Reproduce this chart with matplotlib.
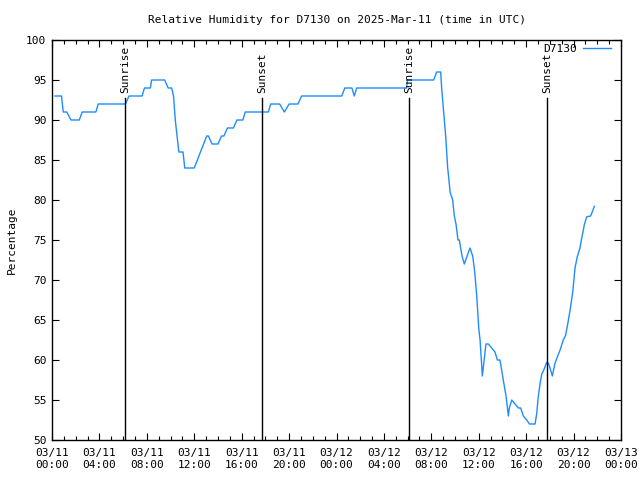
import matplotlib
matplotlib.use("Agg")
import matplotlib.pyplot as plt
from matplotlib.ticker import MultipleLocator

# Hours since 2025-03-11 00:00 UTC
hours = [0.25, 0.8, 0.95, 1.25, 1.6, 2.3, 2.55, 3.7, 3.9, 6.2, 6.5, 7.6, 7.8, 8.3, 8.4, 9.5,
         9.8, 10.1, 10.25, 10.4, 10.55, 10.7, 11.05, 11.2, 12.0, 13.05, 13.2, 13.5, 14.0, 14.3,
         14.5, 14.8, 15.3, 15.6, 16.1, 16.3, 18.25, 18.45, 19.2, 19.6, 20.0, 20.75, 21.06,
         24.44, 24.7, 25.3, 25.5, 25.7, 29.9, 30.0, 32.2, 32.45, 32.79, 32.87, 33.04, 33.21,
         33.38, 33.52, 33.58, 33.8, 33.94, 34.08, 34.25, 34.36, 34.59, 34.78, 35.26, 35.49,
         35.66, 35.83, 36.0, 36.11, 36.22, 36.3, 36.38, 36.53, 36.61, 36.81, 37.09, 37.37,
         37.57, 37.79, 38.07, 38.3, 38.5, 38.58, 38.78, 39.06, 39.34, 39.54, 39.76, 40.05,
         40.27, 40.75, 40.89, 41.02, 41.17, 41.31, 41.5, 41.73, 41.87, 42.01, 42.21, 42.43,
         42.66, 42.85, 43.13, 43.33, 43.47, 43.7, 43.93, 44.12, 44.31, 44.54, 44.68, 44.82,
         44.9, 45.11, 45.44, 45.75]
humidity = [93, 93, 91, 91, 90, 90, 91, 91, 92, 92, 93, 93, 94, 94, 95, 95,
            94, 94, 93, 90, 88, 86, 86, 84, 84, 88, 88, 87, 87, 88,
            88, 89, 89, 90, 90, 91, 91, 92, 92, 91, 92, 92, 93,
            93, 94, 94, 93, 94, 94, 95, 95, 96, 96, 94, 91, 88,
            84, 82, 81, 80, 78, 77, 75, 75, 73, 72, 74, 73,
            71, 68, 64, 62.5, 60, 58, 59, 61, 62, 62, 61.5, 61,
            60, 60, 57.5, 55.5, 53, 54, 55, 54.5, 54, 54, 53, 52.5,
            52, 52, 53.3, 55.4, 57, 58.2, 58.8, 59.7, 59.6, 59, 58, 59.6,
            60.5, 61.2, 62.5, 63.1, 64.2, 66.2, 68.5, 71.5, 72.9, 74, 75.2, 76.2,
            76.9, 77.9, 78, 79.2]

sun_events = ["Sunrise", "Sunset", "Sunrise", "Sunset"]
sun_hours = [6.16, 17.72, 30.12, 41.76]

xtick_labels = ["03/11\n00:00", "03/11\n04:00", "03/11\n08:00", "03/11\n12:00",
                "03/11\n16:00", "03/11\n20:00", "03/12\n00:00", "03/12\n04:00",
                "03/12\n08:00", "03/12\n12:00", "03/12\n16:00", "03/12\n20:00",
                "03/13\n00:00"]

plt.rcParams['font.family'] = ['DejaVu Sans Mono']
fs = 8

fig = plt.figure(figsize=(6.4, 4.8), dpi=100)
ax = fig.add_axes([52/640, 40/480, (621-52)/640, 400/480])

ax.plot(hours, humidity, color='#1E8CFF', lw=1, label='D7130')

line_top = 92.75
for name, h in zip(sun_events, sun_hours):
    ax.plot([h, h], [50, line_top], color='black', lw=1)
    ax.text(h, line_top + 0.6, name, rotation=90, ha='center', va='bottom', fontsize=fs)

ax.set_xlim(0, 48)
ax.set_ylim(50, 100)
ax.set_xticks(range(0, 49, 4))
ax.set_xticklabels(xtick_labels, fontsize=fs)
ax.xaxis.set_minor_locator(MultipleLocator(1))
ax.set_yticks(range(50, 101, 5))
ax.tick_params(axis='y', labelsize=fs, pad=4)
ax.tick_params(axis='x', pad=6)
ax.tick_params(which='both', direction='in', top=True, right=True)
ax.tick_params(which='major', length=5, width=0.8)
ax.tick_params(which='minor', length=3, width=0.8)
for s in ax.spines.values():
    s.set_linewidth(1)

ax.set_ylabel('Percentage', fontsize=fs, labelpad=7)
ax.set_title('Relative Humidity for D7130 on 2025-Mar-11 (time in UTC)', fontsize=fs, pad=12.5)

ax.legend(loc='upper right', bbox_to_anchor=(0.9824, 0.99), frameon=False, fontsize=fs,
          markerfirst=False, handlelength=2.5, borderaxespad=0, borderpad=0,
          handletextpad=0.6)

fig.savefig('out.png', dpi=100)
